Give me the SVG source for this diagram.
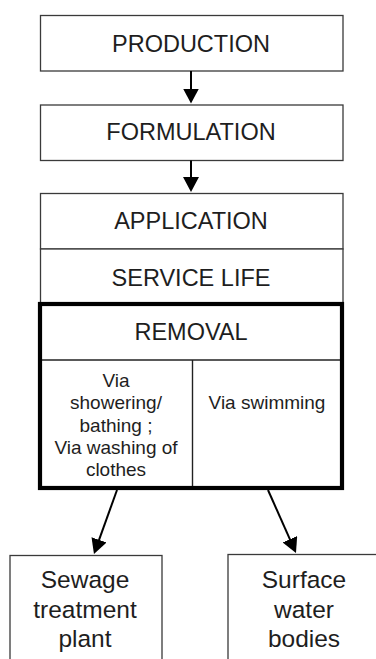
<svg xmlns="http://www.w3.org/2000/svg" width="376" height="659" viewBox="0 0 376 659">
<style>
.box{fill:#fff;stroke:#3a3a3a;stroke-width:1.3}
.thick{fill:none;stroke:#000;stroke-width:4.2}
.div{fill:none;stroke:#222;stroke-width:1.4}
.t{font-family:"Liberation Sans",Arial,sans-serif;font-size:23.5px;fill:#1e1e1e;text-anchor:middle}
.s{font-family:"Liberation Sans",Arial,sans-serif;font-size:19px;fill:#1e1e1e;text-anchor:middle}
.b{font-family:"Liberation Sans",Arial,sans-serif;font-size:24.5px;fill:#1e1e1e;text-anchor:middle}
.c{fill:none;stroke:#000;stroke-width:2}
</style>
<defs>
<marker id="ah" viewBox="0 0 15 16" refX="4" refY="8" markerWidth="15" markerHeight="16" markerUnits="userSpaceOnUse" orient="auto">
<path d="M0,0 L15,8 L0,16 z" fill="#000"/>
</marker>
</defs>
<rect width="376" height="659" fill="#fff"/>
<g id="production">
<rect class="box" x="40.5" y="15.5" width="302.5" height="55.5"/>
<text class="t" x="191" y="51.5">PRODUCTION</text>
</g>
<g id="formulation">
<rect class="box" x="40.5" y="105" width="302.5" height="55.5"/>
<text class="t" x="191" y="140">FORMULATION</text>
</g>
<g id="application">
<rect class="box" x="40.5" y="193.5" width="302.5" height="55.5"/>
<text class="t" x="191" y="229">APPLICATION</text>
</g>
<g id="service-life">
<rect class="box" x="40.5" y="249" width="302.5" height="55"/>
<text class="t" x="191" y="286">SERVICE  LIFE</text>
</g>
<g id="removal">
<rect x="40" y="304" width="302" height="184" fill="#fff"/>
<line class="div" x1="40" y1="360" x2="342" y2="360"/>
<line class="div" x1="192.5" y1="360" x2="192.5" y2="488"/>
<rect class="thick" x="40" y="304" width="302" height="184"/>
<text class="t" x="191" y="340">REMOVAL</text>
<text class="s" x="116" y="386.5">Via</text>
<text class="s" x="116" y="409">showering/</text>
<text class="s" x="116" y="431.5">bathing ;</text>
<text class="s" x="116" y="453.5">Via washing  of</text>
<text class="s" x="116" y="475.5">clothes</text>
<text class="s" x="267" y="409">Via swimming</text>
</g>
<g id="sewage">
<rect class="box" x="10" y="555.5" width="152" height="120"/>
<text class="b" x="85" y="588">Sewage</text>
<text class="b" x="85" y="618">treatment</text>
<text class="b" x="85" y="646.5">plant</text>
</g>
<g id="surface-water">
<rect class="box" x="228" y="554.5" width="160" height="120"/>
<text class="b" x="304" y="588">Surface</text>
<text class="b" x="304" y="618">water</text>
<text class="b" x="304" y="646.5">bodies</text>
</g>
<g id="connectors">
<line class="c" x1="191" y1="71" x2="191" y2="92.5" marker-end="url(#ah)"/>
<line class="c" x1="191" y1="160.5" x2="191" y2="181" marker-end="url(#ah)"/>
<line class="c" x1="117" y1="490" x2="97.7" y2="543.6" marker-end="url(#ah)"/>
<line class="c" x1="268" y1="490" x2="291.5" y2="542.9" marker-end="url(#ah)"/>
</g>
</svg>
